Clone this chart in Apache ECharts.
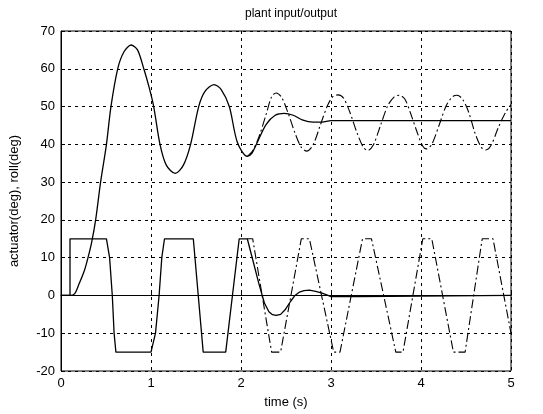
<!DOCTYPE html>
<html><head><meta charset="utf-8">
<script src="https://cdn.jsdelivr.net/npm/echarts@6/dist/echarts.min.js"></script>
<style>html,body{margin:0;padding:0;background:#fff}#c{width:543px;height:414px}</style>
</head><body><div id="c"></div>
<script>
// Roll (closed loop, settles) - solid
var rollT = [0,0.10,0.15,0.20,0.26,0.30,0.34,0.385,0.44,0.505,0.555,0.63,0.70,0.78,0.85,0.92,0.98,1.03,1.10,1.17,1.27,1.36,1.44,1.53,1.60,1.70,1.78,1.87,1.96,2.07,2.12,2.18,2.28,2.38,2.48,2.58,2.68,2.80,2.90,3.00,3.50,4.00,4.50,5.00];
var rollV = [0,0,0.4,3,6.6,10,14,20,30,40,50,60,64.5,66.3,65,60,55,50,40,34.5,32.3,34.5,40,50,54,55.8,54.5,50,40.5,36.8,37.6,40.5,45.3,47.7,48.2,47.7,46.5,45.9,45.9,46.3,46.3,46.3,46.3,46.3];
// Roll (limit cycle) - dash-dot, after divergence
var rollLcT = [2.07,2.13,2.20,2.28,2.34,2.39,2.45,2.52,2.60,2.67,2.73,2.80,2.88,2.96,3.02,3.08,3.14,3.21,3.29,3.36,3.41,3.47,3.55,3.63,3.70,3.76,3.82,3.88,3.96,4.02,4.06,4.12,4.20,4.28,4.35,4.40,4.46,4.53,4.60,4.67,4.72,4.78,4.86,4.94,5.00];
var rollLcV = [36.8,38.3,42,48,52.6,53.6,52.5,48.5,43,39.2,38.2,39.8,45,50.2,52.6,53.1,52.2,48.5,43,39.2,38.4,39.8,45,50.2,52.5,53.0,52.0,48.5,43,39.5,38.8,40,45,50.2,52.6,53.0,52.0,48.5,43,39.2,38.5,39.8,44.5,48.5,50.5];
// Actuator (closed loop) - solid
var actT = [0,0.10,0.10,0.505,0.54,0.57,0.59,0.61,1.00,1.05,1.09,1.12,1.15,1.47,1.58,1.83,1.98,2.07,2.20,2.26,2.31,2.35,2.39,2.44,2.49,2.55,2.60,2.65,2.70,2.76,2.83,2.90,2.96,3.00,3.30,3.32,5.00];
var actV = [0,0,15,15,10,0,-10,-15,-15,-10,0,10,15,15,-15,-15,15,15,3,-2,-4.3,-5.1,-5.3,-5,-3.8,-1.6,0,0.9,1.3,1.4,1.1,0.6,0.1,-0.3,-0.3,0,0];
// Actuator (limit cycle) - dash-dot, after divergence
var actLcT = [2.07,2.13,2.34,2.44,2.67,2.76,3.03,3.10,3.35,3.45,3.72,3.80,4.02,4.12,4.36,4.49,4.68,4.80,5.00];
var actLcV = [15,15,-15,-15,15,15,-15,-15,15,15,-15,-15,15,15,-15,-15,15,15,-10];

function zip(t,v){var o=[];for(var i=0;i<t.length;i++)o.push([t[i],v[i]]);return o;}
var font = 'Liberation Sans, Arial, sans-serif';
var chart = echarts.init(document.getElementById('c'));
var solid = {color:'#000',width:1.3,type:'solid'};
var dashdot = {color:'#000',width:1.1,type:[9,3,2,3]};
chart.setOption({
  animation:false,
  backgroundColor:'#fff',
  title:{text:'plant input/output',left:286,top:3,textAlign:'center',textStyle:{fontFamily:font,fontSize:12,fontWeight:'normal',color:'#000'}},
  grid:{left:61,right:32,top:31,bottom:43,show:true,borderColor:'#000',borderWidth:1,backgroundColor:'transparent'},
  xAxis:{type:'value',min:0,max:5,interval:1,
    name:'time (s)',nameLocation:'middle',nameGap:25,nameTextStyle:{fontFamily:font,fontSize:13,color:'#000'},
    axisLine:{show:true,lineStyle:{color:'#000'}},
    axisTick:{show:true,inside:true,length:4,lineStyle:{color:'#000'}},
    axisLabel:{fontFamily:font,fontSize:13,color:'#000',margin:6},
    splitLine:{show:true,lineStyle:{color:'#000',type:[3,4],width:1}}},
  yAxis:{type:'value',min:-20,max:70,interval:10,
    name:'actuator(deg), roll(deg)',nameLocation:'middle',nameGap:40,nameTextStyle:{fontFamily:font,fontSize:13,color:'#000'},
    axisLine:{show:true,lineStyle:{color:'#000'}},
    axisTick:{show:true,inside:true,length:4,lineStyle:{color:'#000'}},
    axisLabel:{fontFamily:font,fontSize:13,color:'#000',margin:6},
    splitLine:{show:true,lineStyle:{color:'#000',type:[3,4],width:1}}},
  series:[
    {type:'line',data:zip(rollLcT,rollLcV),showSymbol:false,smooth:0.3,lineStyle:dashdot,z:2},
    {type:'line',data:zip(actLcT,actLcV),showSymbol:false,lineStyle:dashdot,z:2},
    {type:'line',data:zip(rollT,rollV),showSymbol:false,smooth:0.3,lineStyle:solid,z:3},
    {type:'line',data:zip(actT,actV),showSymbol:false,lineStyle:solid,z:3}
  ]
});
</script></body></html>
